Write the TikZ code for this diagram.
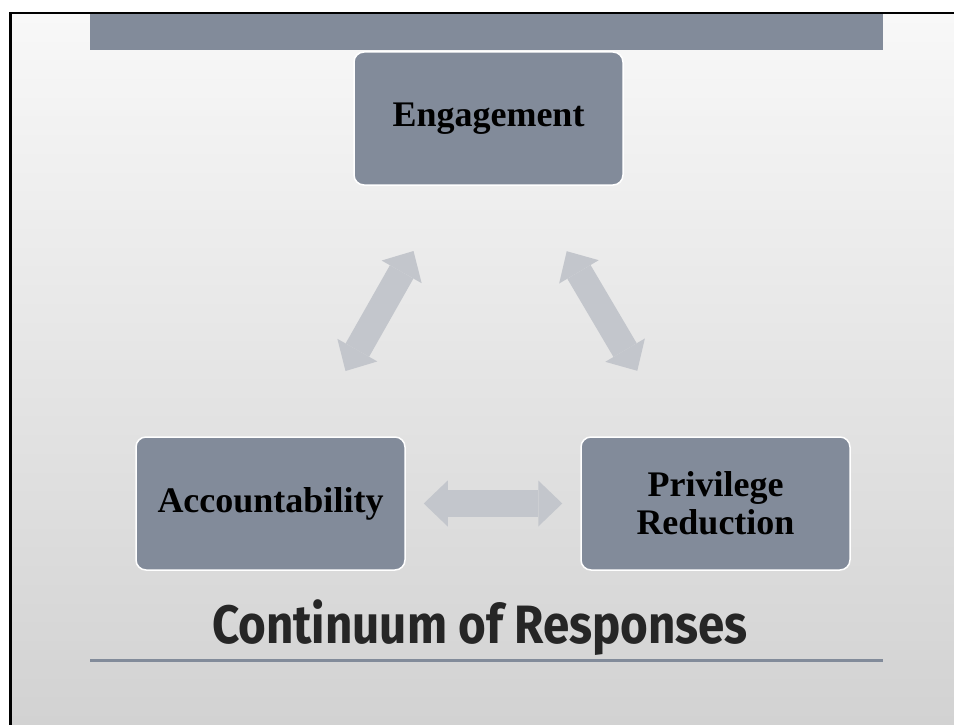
\documentclass[tikz,border=0pt]{standalone}
\usepackage{fontspec}
\setmainfont{Liberation Serif}
\newfontfamily\titlefont{Fira Sans}[FakeStretch=0.88]
\usetikzlibrary{arrows.meta}
\definecolor{slate}{RGB}{130,139,154}
\definecolor{pale}{RGB}{195,198,204}
\definecolor{ink}{RGB}{38,38,38}
\definecolor{bgtop}{RGB}{248,248,248}
\definecolor{bgbot}{RGB}{210,210,210}
\tikzset{bx/.append style={draw=white, line width=1.5pt, fill=slate, rounded corners=10pt, minimum width=269pt, minimum height=133pt, inner sep=0pt, align=center, font=\fontsize{36}{38}\selectfont\bfseries}}
\tikzset{dbl/.append style={draw=pale, line width=27pt, >={Triangle[length=24pt,width=46pt,line width=0pt]}, <->}}

\begin{document}
\begin{tikzpicture}[x=1pt,y=-1pt]
                \useasboundingbox (0,0) rectangle (954,725);
                \fill[white] (0,0) rectangle (954,725);
                \shade[top color=bgtop, bottom color=bgbot] (11,13) rectangle (954,725);
                \draw[line width=2.5pt] (10.3,725) |- (954,12.8);
                \fill[slate] (90,14) rectangle (883,50.5);
                \draw[slate, line width=2.5pt] (90,660.5) -- (883,660.5);
                % \SetUpBoxes
                \node[bx] (eng) at (488.5,118.5) {Engagement};
                \node[bx] (acc) at (270.5,503.5) {Accountability};
                \node[bx] (priv) at (715.5,503.5) {Privilege\\Reduction};
                \path (acc) edge[dbl, shorten <=75pt, shorten >=75pt] (eng);
                \path (eng) edge[dbl, shorten <=76pt, shorten >=76pt] (priv);
                \path (acc) edge[dbl, shorten <=18pt, shorten >=18pt] (priv);
                \node[anchor=base, text=ink, font=\titlefont\bfseries\fontsize{54}{54}\selectfont] (title) at (480,643) {Continuum of Responses};
            \end{tikzpicture}
\end{document}
